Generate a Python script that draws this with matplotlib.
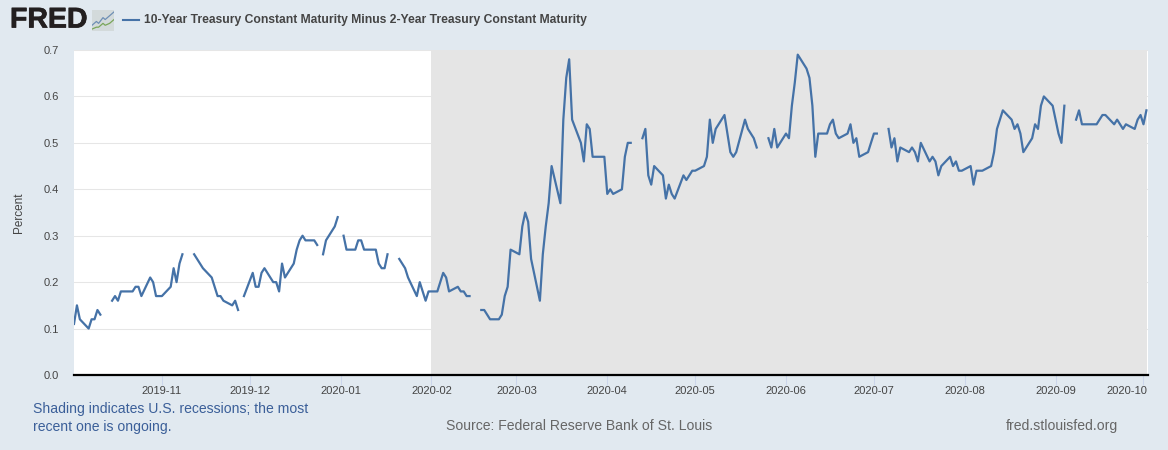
import matplotlib
matplotlib.use('Agg')
import matplotlib.pyplot as plt
import matplotlib.dates as mdates
import matplotlib.patheffects as pe
from matplotlib.transforms import ScaledTranslation
import numpy as np
import pandas as pd

nan = float('nan')

# T10Y2Y, one list per month, nan = bond market holiday
oct19 = [.11,.15,.12,.10,.12,.12,.14,.13,nan,.16,.17,.16,.18,.18,.18,.19,.19,.17,.21,.20,.17,.17]
nov19 = [.17,.19,.23,.20,.24,.26,nan,.26,.25,.24,.23,.21,.19,.17,.17,.16,.15,.16,.14,nan,.17]
dec19 = [.22,.19,.19,.22,.23,.20,.20,.18,.24,.21,.24,.27,.29,.30,.29,.29,.28,nan,.26,.29,.32,.34]
jan20 = [nan,.30,.27,.27,.29,.29,.27,.27,.27,.24,.23,.23,.26,nan,.25,.24,.23,.21,.17,.20,.18,.16,.18]
feb20 = [.18,.20,.22,.21,.18,.19,.18,.18,.17,.17,nan,.14,.14,.13,.12,.12,.13,.17,.19,.27]
mar20 = [.26,.32,.35,.33,.25,.16,.26,.32,.37,.45,.37,.55,.64,.68,.55,.50,.46,.54,.53,.47,.47,.47]
apr20 = [.39,.40,.39,.40,.47,.50,.50,nan,.51,.53,.43,.41,.45,.43,.38,.41,.39,.38,.43,.42,.43,.44]
may20 = [.44,.45,.47,.55,.50,.53,.56,.52,.48,.47,.48,.55,.53,.52,.51,.49,nan,.51,.49,.53,.49]
jun20 = [.52,.51,.58,.63,.69,.66,.64,.58,.47,.52,.52,.54,.55,.52,.51,.52,.54,.50,.51,.47,.48,.50]
jul20 = [.52,.52,nan,.53,.49,.51,.46,.49,.48,.49,.48,.46,.50,.46,.47,.46,.43,.45,.47,.45,.46,.44,.44]
aug20 = [.45,.41,.44,.44,.44,.45,.48,.53,.55,.57,.55,.53,.54,.52,.48,.51,.54,.53,.58,.60,.58]
sep20 = [.55,.52,.50,.58,nan,.55,.57,.54,.54,.54,.54,.55,.56,.56,.54,.55,.54,.53,.54,.53,.55,.56]
oct20 = [.54,.57]

months = [('2019-10-02','2019-10-31',oct19),('2019-11-01','2019-11-30',nov19),
          ('2019-12-01','2019-12-31',dec19),('2020-01-01','2020-01-31',jan20),
          ('2020-02-01','2020-02-29',feb20),('2020-03-01','2020-03-31',mar20),
          ('2020-04-01','2020-04-30',apr20),('2020-05-01','2020-05-31',may20),
          ('2020-06-01','2020-06-30',jun20),('2020-07-01','2020-07-31',jul20),
          ('2020-08-01','2020-08-31',aug20),('2020-09-01','2020-09-30',sep20),
          ('2020-10-01','2020-10-02',oct20)]

dates = []
values = []
for start, end, vals in months:
    days = pd.bdate_range(start, end)
    assert len(days) == len(vals), start
    dates.extend(days)
    values.extend(vals)

tick_months = ['2019-11','2019-12','2020-01','2020-02','2020-03','2020-04','2020-05',
               '2020-06','2020-07','2020-08','2020-09','2020-10']
y_ticks = [0.0,0.1,0.2,0.3,0.4,0.5,0.6,0.7]

W, H = 1168, 450
bg = '#e1e9f0'
plt.rcParams['font.family'] = ['Liberation Sans', 'DejaVu Sans']

fig = plt.figure(figsize=(W/100, H/100), dpi=100, facecolor=bg)
ax = fig.add_axes([74/W, 1-375/H, (1148-74)/W, 325/H])
ax.set_facecolor('white')

ax.axvspan(pd.Timestamp('2020-02-01'), pd.Timestamp('2020-10-02 04:00'), color='#e5e5e5', lw=0, zorder=1)
ax.plot(dates, values, color='#4572a7', lw=1.6, zorder=3)

ax.set_xlim(pd.Timestamp('2019-10-02'), pd.Timestamp('2020-10-02 13:00'))
ax.set_ylim(0, 0.7)
ax.set_yticks(y_ticks)
ax.set_yticklabels(['%.1f' % v for v in y_ticks])
ax.grid(axis='y', color='#e6e6e6', lw=0.75, zorder=0)
ax.set_axisbelow(True)
for name in ['top', 'left', 'right']:
    ax.spines[name].set_visible(False)
ax.spines['bottom'].set_color('black')
ax.spines['bottom'].set_linewidth(1.6)
ax.spines['bottom'].set_zorder(4)

ax.set_xticks([pd.Timestamp(m + '-01') for m in tick_months])
ax.xaxis.set_major_formatter(mdates.DateFormatter('%Y-%m'))
ax.tick_params(axis='x', length=7.2, width=0.75, color='#ccd6eb', labelsize=8, labelcolor='#444444', pad=1)
ax.tick_params(axis='y', length=0, labelsize=8, labelcolor='#444444', pad=11)

# last label is pushed left so it stays inside the plot
last = ax.get_xticklabels()[-1]
last.set_transform(last.get_transform() + ScaledTranslation(-17/100, 0, fig.dpi_scale_trans))

fig.text(19/W, 1-213/H, 'Percent', rotation=90, fontsize=8.5, color='#444444', ha='center', va='center')

# header
logo = fig.text(10/W, 1-20.5/H, 'FRED', fontsize=20.5, fontweight='bold', color='#231f20', ha='left', va='center')
logo.set_path_effects([pe.withStroke(linewidth=0.5, foreground='#231f20')])
icon = fig.add_axes([92/W, 1-31/H, 22/W, 21/H], facecolor='#d3dadb')
icon.plot([0,2,3,5,6,8,10], [3,5,4,7,6,8,10], color='#6e8fb5', lw=0.9)
icon.plot([0,2,3,5,6,8,10], [1,2,2,4,3,4,6], color='#7aa65a', lw=0.9)
icon.set_xlim(0,10)
icon.set_ylim(0,11)
icon.set_xticks([])
icon.set_yticks([])
for s in icon.spines.values():
    s.set_visible(False)
fig.add_artist(plt.Line2D([123/W, 139/W], [1-20/H, 1-20/H], color='#4572a7', lw=1.5))
fig.text(144/W, 1-20/H, '10-Year Treasury Constant Maturity Minus 2-Year Treasury Constant Maturity',
         fontsize=8.7, fontweight='bold', color='#444444', ha='left', va='center')

# footer
fig.text(33/W, 1-409/H, 'Shading indicates U.S. recessions; the most', fontsize=10.07, color='#3b5f99', ha='left', va='center')
fig.text(33/W, 1-426.5/H, 'recent one is ongoing.', fontsize=10.07, color='#3b5f99', ha='left', va='center')
fig.text(446/W, 1-426/H, 'Source: Federal Reserve Bank of St. Louis', fontsize=10.05, color='#666666', ha='left', va='center')
fig.text(1006/W, 1-426/H, 'fred.stlouisfed.org', fontsize=10.05, color='#666666', ha='left', va='center')

fig.savefig('out.png', dpi=100, facecolor=bg)
